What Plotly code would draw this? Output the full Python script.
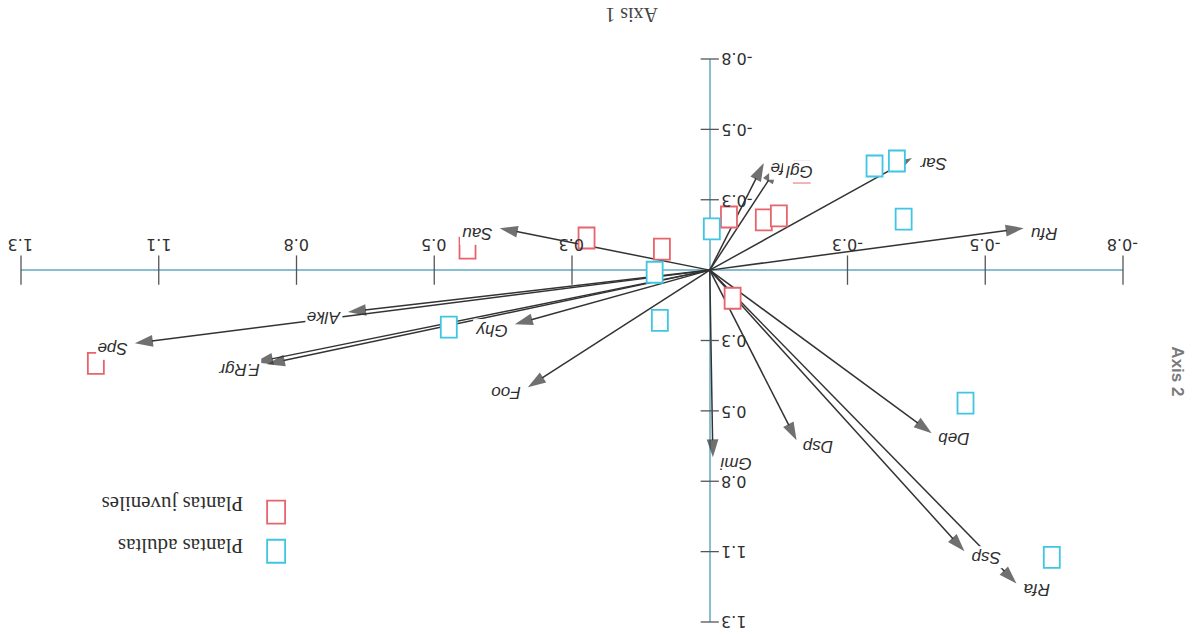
import plotly.graph_objects as go

# Variable loadings on the first two axes (arrows)
var_labels = ["Sau", "fe", "Ggl", "Sar", "Rfu", "Deb", "Rfa", "Ssp", "Dsp",
              "Gmi", "Foo", "Ghy", "Alke", "Spe", "F.Rgr", ""]
var_axis1 = [0.404, -0.104, -0.131, -0.389, -0.604, -0.427, -0.590, -0.490, -0.167,
             -0.006, 0.350, 0.375, 0.696, 1.106, 0.852, 0.875]
var_axis2 = [-0.158, -0.403, -0.392, -0.422, -0.158, 0.614, 1.180, 1.059, 0.641,
             0.705, 0.441, 0.204, 0.158, 0.275, 0.354, 0.347]

# Sample scores
juv_axis1 = [0.237, 0.092, -0.037, -0.104, -0.133, 0.466, -0.044, 1.181, -0.177]
juv_axis2 = [-0.121, -0.079, -0.200, -0.189, -0.204, -0.083, 0.106, 0.351, -0.369]
adu_axis1 = [-0.004, 0.106, 0.096, 0.502, -0.317, -0.360, -0.373, -0.492, -0.658]
adu_axis2 = [-0.155, 0.008, 0.189, 0.215, -0.392, -0.411, -0.192, 0.501, 1.082]

legend_names = ["Plantas juveniles", "Plantas adultas"]

# Axis ticks
tick_step = 0.265
tick_index = [-3, -2, -1, 1, 2, 3, 4, 5]
tick_labels = ["-0.8", "-0.5", "-0.3", "0.3", "0.5", "0.8", "1.1", "1.3"]

JUV_COLOR = "#e8646c"
ADU_COLOR = "#3fc6e4"
ARROW_COLOR = "#333333"
AXIS_COLOR = "#88bfd0"
TICK_COLOR = "#555555"
TEXT_COLOR = "#2f2f2f"

lo, hi = min(tick_index) * tick_step, max(tick_index) * tick_step
tick_pos = [k * tick_step for k in tick_index]

fig = go.Figure()

# Arrows from the origin to each loading
ax_x, ax_y, head = [], [], []
for x, y in zip(var_axis1, var_axis2):
    ax_x += [0, x, None]
    ax_y += [0, y, None]
    head += [0, 19, 0]
fig.add_trace(go.Scatter(
    x=ax_x, y=ax_y, mode="lines+markers",
    line=dict(color=ARROW_COLOR, width=1.5),
    marker=dict(symbol="arrow", size=head, angleref="previous", color=ARROW_COLOR,
                line=dict(width=0)),
    hoverinfo="skip", showlegend=False, cliponaxis=False))

# Tick marks crossing both axis lines
fig.add_trace(go.Scatter(
    x=tick_pos, y=[0] * len(tick_pos), mode="markers",
    marker=dict(symbol="line-ns-open", size=21, color=TICK_COLOR,
                line=dict(color=TICK_COLOR, width=1.3)),
    hoverinfo="skip", showlegend=False, cliponaxis=False))
fig.add_trace(go.Scatter(
    x=[0] * len(tick_pos), y=tick_pos, mode="markers",
    marker=dict(symbol="line-ew-open", size=13, color=TICK_COLOR,
                line=dict(color=TICK_COLOR, width=1.3)),
    hoverinfo="skip", showlegend=False, cliponaxis=False))

shapes = []


def box(xa, ya, color, ref=("x", "y"), w=16, h=21):
    return dict(type="rect", xref=ref[0], yref=ref[1],
                xsizemode="pixel", ysizemode="pixel",
                xanchor=xa, yanchor=ya, x0=-w / 2, x1=w / 2, y0=-h / 2, y1=h / 2,
                line=dict(color=color, width=1.8), fillcolor="white", layer="above")


for x, y in zip(juv_axis1, juv_axis2):
    shapes.append(box(x, y, JUV_COLOR))
for x, y in zip(adu_axis1, adu_axis2):
    shapes.append(box(x, y, ADU_COLOR))

# Legend boxes
shapes.append(box(0.2315, 0.195, JUV_COLOR, ref=("paper", "paper"), w=18, h=23))
shapes.append(box(0.2315, 0.1257, ADU_COLOR, ref=("paper", "paper"), w=18, h=23))

annotations = []

# Variable names beyond the arrow tips
for lab, x, y in zip(var_labels, var_axis1, var_axis2):
    if not lab:
        continue
    right = x < 0
    annotations.append(dict(
        x=x, y=y, xref="x", yref="y", text=lab, showarrow=False, textangle=180,
        xanchor="left" if right else "right", yanchor="middle",
        xshift=5 if right else -5, yshift=-6, bgcolor="white", borderpad=1,
        font=dict(family="Liberation Sans, Arial, sans-serif", size=17,
                  style="italic", color=TEXT_COLOR)))

# Tick labels
tick_font = dict(family="DejaVu Sans, sans-serif", size=16, color=TEXT_COLOR)
for v, t in zip(tick_pos, tick_labels):
    annotations.append(dict(x=v, y=0, xref="x", yref="y", text=t, showarrow=False,
                            textangle=180, xanchor="center", yanchor="middle",
                            yshift=25, font=tick_font))
    annotations.append(dict(x=0, y=v, xref="x", yref="y", text=t, showarrow=False,
                            textangle=180, xanchor="left", yanchor="middle",
                            xshift=10, font=tick_font))

# Axis titles
annotations.append(dict(x=0.5535, y=1.077, xref="paper", yref="paper", text="Axis 1",
                        showarrow=False, textangle=180, xanchor="center", yanchor="middle",
                        font=dict(family="Liberation Serif, Times New Roman, serif",
                                  size=20, color="#444444")))
annotations.append(dict(x=1.0496, y=0.4458, xref="paper", yref="paper", text="<b>Axis 2</b>",
                        showarrow=False, textangle=90, xanchor="center", yanchor="middle",
                        font=dict(family="Liberation Sans, Arial, sans-serif",
                                  size=17, color="#7a7a7a")))

# Legend texts
for name, yp in zip(legend_names, [0.2093, 0.1346]):
    annotations.append(dict(x=0.2034, y=yp, xref="paper", yref="paper", text=name,
                            showarrow=False, textangle=180, xanchor="right", yanchor="middle",
                            font=dict(family="Liberation Serif, Times New Roman, serif",
                                      size=21, color=TEXT_COLOR)))

axis_common = dict(range=[hi, lo], showgrid=False, showticklabels=False, ticks="",
                   zeroline=True, zerolinecolor=AXIS_COLOR, zerolinewidth=1.6,
                   showline=False, fixedrange=True)

fig.update_layout(
    width=1194, height=635, autosize=False,
    margin=dict(l=21, r=71, t=59, b=13, pad=0),
    paper_bgcolor="white", plot_bgcolor="white",
    xaxis=axis_common, yaxis=axis_common,
    shapes=shapes, annotations=annotations, showlegend=False)

fig.write_html("out.html")
